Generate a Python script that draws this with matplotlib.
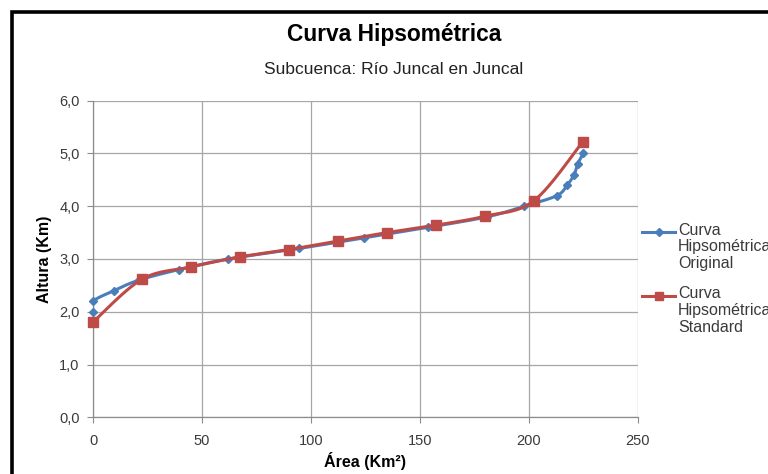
import numpy as np
import matplotlib
matplotlib.use("Agg")
import matplotlib.pyplot as plt
from matplotlib.lines import Line2D
from matplotlib.patches import Rectangle
from matplotlib.ticker import FuncFormatter, MultipleLocator

# Curva hipsométrica original (área acumulada km², altura km)
area_original = [0, 0, 9.5, 21, 39.4, 62, 94.6, 124.3, 153.9, 181, 198, 212.9, 217.7, 220.9, 222.5, 225.1]
altura_original = [2.0, 2.2, 2.4, 2.6, 2.8, 3.0, 3.2, 3.4, 3.6, 3.8, 4.0, 4.2, 4.4, 4.6, 4.8, 5.0]

# Curva hipsométrica standard
area_standard = [0, 22.5, 45, 67.4, 89.9, 112.4, 134.9, 157.3, 179.8, 202.3, 224.8]
altura_standard = [1.81, 2.62, 2.85, 3.04, 3.18, 3.34, 3.50, 3.64, 3.81, 4.10, 5.22]

titulo = "Curva Hipsométrica"
subtitulo = "Subcuenca: Río Juncal en Juncal"
etiqueta_x = "Área (Km²)"
etiqueta_y = "Altura (Km)"
serie_original = "Curva\nHipsométrica\nOriginal"
serie_standard = "Curva\nHipsométrica\nStandard"

AZUL = "#4A7EBB"
ROJO = "#BE4B48"
GRIS = "#A6A6A6"
TEXTO = "#3A3A3A"
FUENTE = ["Liberation Sans", "DejaVu Sans"]


def suavizar(xs, ys, n=30):
    """Bezier cúbico tipo Catmull-Rom a través de todos los puntos."""
    p = np.column_stack([xs, ys]).astype(float)
    ext = np.vstack([p[0], p, p[-1]])
    t = np.linspace(0, 1, n)[:, None]
    tramos = []
    for i in range(len(p) - 1):
        p0, p1 = ext[i + 1], ext[i + 2]
        c1 = p0 + (ext[i + 2] - ext[i]) / 6.0
        c2 = p1 - (ext[i + 3] - ext[i + 1]) / 6.0
        b = ((1 - t) ** 3) * p0 + 3 * ((1 - t) ** 2) * t * c1 + 3 * (1 - t) * t ** 2 * c2 + t ** 3 * p1
        tramos.append(b if i == 0 else b[1:])
    c = np.vstack(tramos)
    return c[:, 0], c[:, 1]


W, H = 768, 474
fig = plt.figure(figsize=(W / 100, H / 100), dpi=100)
fig.patch.set_facecolor("white")

# área de trazado en píxeles
x0, x1, ytop, ybot = 93.3, 637.5, 100.7, 417.3
ax = fig.add_axes([x0 / W, (H - ybot) / H, (x1 - x0) / W, (ybot - ytop) / H])

ax.set_xlim(0, 250)
ax.set_ylim(0, 6)
ax.xaxis.set_major_locator(MultipleLocator(50))
ax.yaxis.set_major_locator(MultipleLocator(1))
ax.yaxis.set_major_formatter(FuncFormatter(lambda v, _: f"{v:.1f}".replace(".", ",")))
ax.xaxis.set_major_formatter(FuncFormatter(lambda v, _: f"{v:.0f}"))

ax.grid(True, color=GRIS, linewidth=0.9, zorder=0)
ax.set_axisbelow(True)
for lado in ("top", "right"):
    ax.spines[lado].set_visible(False)
for lado in ("left", "bottom"):
    ax.spines[lado].set_color("#8C8C8C")
    ax.spines[lado].set_linewidth(0.9)
ax.tick_params(direction="out", length=4.3, width=0.8, color="#8C8C8C",
               labelsize=10.5, labelcolor=TEXTO)
ax.tick_params(axis="y", pad=5.5)
ax.tick_params(axis="x", pad=8)
for lbl in ax.get_xticklabels() + ax.get_yticklabels():
    lbl.set_family(FUENTE)

# líneas suavizadas y marcadores
sx, sy = suavizar(area_original, altura_original)
ax.plot(sx, sy, color=AZUL, lw=2.2, solid_capstyle="round", zorder=3)
ax.plot(area_original, altura_original, ls="none", marker="D", ms=4.4,
        color=AZUL, zorder=4, clip_on=False)

sx, sy = suavizar(area_standard, altura_standard)
ax.plot(sx, sy, color=ROJO, lw=2.2, solid_capstyle="round", zorder=5)
ax.plot(area_standard, altura_standard, ls="none", marker="s", ms=7.2,
        color=ROJO, zorder=6, clip_on=False)

# títulos de ejes
ax.set_xlabel(etiqueta_x, fontsize=11.5, fontweight="bold", family=FUENTE)
ax.set_ylabel(etiqueta_y, fontsize=11.5, fontweight="bold", family=FUENTE)
ax.xaxis.set_label_coords(0.5, -(452 - ybot) / (ybot - ytop))
ax.yaxis.set_label_coords(-(x0 - 52) / (x1 - x0), 0.5)

# títulos del gráfico
fig.text(394 / W, 1 - 35 / H, titulo, ha="center", va="center", fontsize=16.4,
         fontweight="bold", family=FUENTE)
fig.text(394 / W, 1 - 70 / H, subtitulo, ha="center", va="center", fontsize=12.5,
         family=FUENTE, color="#222222")

# leyenda
def entrada(y_px, color, marker, ms, texto):
    fig.add_artist(Line2D([642 / W, 675 / W], [1 - y_px / H] * 2, transform=fig.transFigure,
                          color=color, lw=2.2))
    fig.add_artist(Line2D([658.5 / W], [1 - y_px / H], transform=fig.transFigure,
                          color=color, marker=marker, ms=ms, ls="none"))
    fig.text(678 / W, 1 - (y_px - 9) / H, texto, ha="left", va="top", fontsize=11.5,
             family=FUENTE, color=TEXTO, linespacing=1.15)

entrada(231.7, AZUL, "D", 4.4, serie_original)
entrada(295.5, ROJO, "s", 6.0, serie_standard)

# marco del gráfico
fig.add_artist(Rectangle((12 / W, -0.2), 1.2, 1.2 - 11.5 / H, transform=fig.transFigure,
                         fill=False, edgecolor="black", lw=2.6, clip_on=False))

fig.savefig("out.png", dpi=100)
